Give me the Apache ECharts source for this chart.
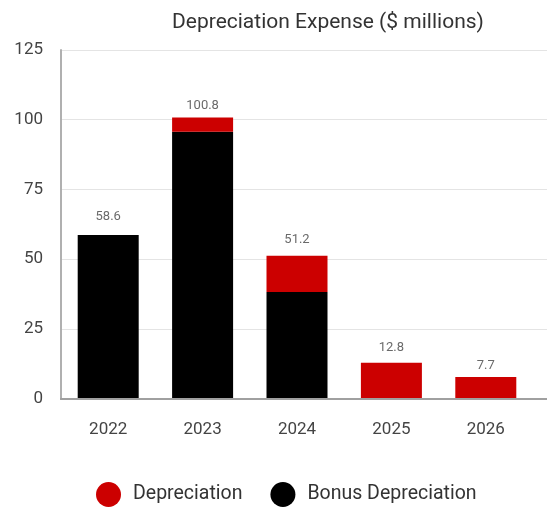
<!DOCTYPE html>
<html>
<head>
<meta charset="utf-8">
<script src="https://cdn.jsdelivr.net/npm/echarts@6/dist/echarts.min.js"></script>
<style>
  html, body { margin: 0; padding: 0; background: #fff; }
  #chart { width: 547px; height: 507px; }
</style>
</head>
<body>
<div id="chart"></div>
<script>
const titleText = 'Depreciation Expense ($ millions)';
const categories = ['2022', '2023', '2024', '2025', '2026'];
const bonusDepreciation = [58.6, 95.7, 38.2, 0, 0];
const depreciation = [0, 5.1, 13.0, 12.8, 7.7];
const totals = [58.6, 100.8, 51.2, 12.8, 7.7];
const yTicks = [0, 25, 50, 75, 100, 125];
const labelGaps = [12, 5, 10, 9, 5];

const chart = echarts.init(document.getElementById('chart'), null, { renderer: 'canvas' });
const font = 'Roboto, "Noto Sans", sans-serif';
const yMin = yTicks[0], yMax = yTicks[yTicks.length - 1], yStep = yTicks[1] - yTicks[0];

chart.setOption({
  animation: false,
  backgroundColor: '#ffffff',
  title: {
    text: titleText,
    left: 167,
    top: 7,
    textStyle: { fontFamily: font, fontSize: 21, fontWeight: 'normal', color: '#333333' }
  },
  legend: {
    data: ['Depreciation', 'Bonus Depreciation'],
    left: 91,
    top: 477,
    icon: 'circle',
    itemWidth: 25,
    itemHeight: 25,
    itemGap: 28,
    textStyle: { fontFamily: font, fontSize: 19.5, color: '#333333', padding: [0, 0, 0, 7] }
  },
  grid: [
    { left: 61, right: 14, top: 50, bottom: 108.5, containLabel: false },
    { left: 61, right: 0, top: 50, bottom: 108.5, containLabel: false }
  ],
  xAxis: [
    {
      type: 'category',
      gridIndex: 0,
      data: categories,
      axisTick: { show: false },
      axisLine: { show: true, lineStyle: { color: '#a0a0a0', width: 2 } },
      axisLabel: { fontFamily: font, fontSize: 17, color: '#444444', margin: 23 },
      z: 3
    },
    {
      type: 'value',
      gridIndex: 1,
      position: 'bottom',
      axisLine: { show: true, onZero: false, lineStyle: { color: '#a0a0a0', width: 2 } },
      axisTick: { show: false },
      axisLabel: { show: false },
      splitLine: { show: false },
      z: 3
    }
  ],
  yAxis: [
    {
      type: 'value',
      gridIndex: 0,
      min: yMin,
      max: yMax,
      interval: yStep,
      axisLine: { show: true, lineStyle: { color: '#b0b0b0', width: 2 } },
      axisTick: { show: false },
      splitLine: { show: false },
      axisLabel: { fontFamily: font, fontSize: 17, color: '#444444', margin: 18 },
      z: 3
    },
    {
      type: 'value',
      gridIndex: 1,
      min: yMin,
      max: yMax,
      interval: yStep,
      axisLine: { show: false },
      axisTick: { show: false },
      axisLabel: { show: false },
      splitLine: { show: true, lineStyle: { color: '#e4e4e4', width: 1 } },
      z: 0
    }
  ],
  series: [
    {
      name: 'Bonus Depreciation',
      type: 'bar',
      stack: 'total',
      barWidth: 61,
      itemStyle: { color: '#000000' },
      data: bonusDepreciation
    },
    {
      name: 'Depreciation',
      type: 'bar',
      stack: 'total',
      barWidth: 61,
      itemStyle: { color: '#cc0000' },
      data: depreciation
    },
    {
      name: 'totals',
      type: 'scatter',
      symbolSize: 0,
      silent: true,
      data: totals.map((v, i) => ({
        value: v,
        label: { distance: labelGaps[i] }
      })),
      label: {
        show: true,
        position: 'top',
        fontFamily: font,
        fontSize: 13,
        color: '#444444',
        formatter: p => p.value.toFixed(1)
      }
    }
  ],
  color: ['#000000', '#cc0000']
});
</script>
</body>
</html>
